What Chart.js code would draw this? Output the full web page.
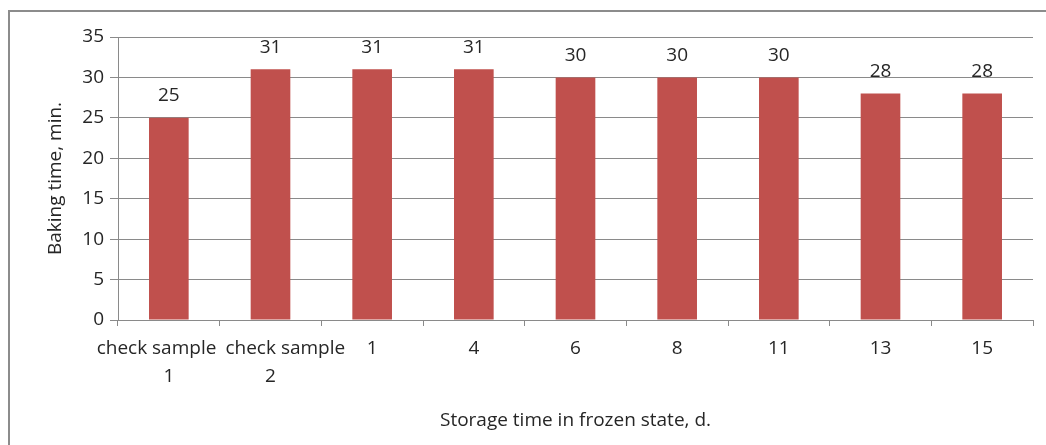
<!DOCTYPE html>
<html>
<head>
<meta charset="utf-8">
<script src="https://cdn.jsdelivr.net/npm/chart.js@4"></script>
<style>
html,body{margin:0;padding:0;background:#fff;overflow:hidden;}
.frame{position:absolute;left:8px;top:10px;width:1100px;height:500px;border-left:2px solid #8c8c8c;border-top:2px solid #8c8c8c;}
.wrap{position:absolute;left:0;top:0;width:1046px;height:445px;}
</style>
</head>
<body>
<div class="frame"></div>
<div class="wrap"><canvas id="bakeChart"></canvas></div>
<script>
/* ── DATA ── */
var categories=[['check sample','1'],['check sample','2'],'1','4','6','8','11','13','15'];
var bakingTime=[25,31,31,31,30,30,30,28,28];
var yTicks=[0,5,10,15,20,25,30,35];

var FONT='"Open Sans", "Liberation Sans", sans-serif';
var FS=19;
var TXT='#262626';
var GRID='#8a8a8a';

/* ── value labels above bars ── */
var barLabels={
  id:'barLabels',
  afterDatasetsDraw:function(chart){
    var ctx=chart.ctx;
    var meta=chart.getDatasetMeta(0);
    ctx.save();
    ctx.font=FS+'px '+FONT;
    ctx.fillStyle=TXT;
    ctx.textAlign='center';
    ctx.textBaseline='middle';
    meta.data.forEach(function(bar,i){
      ctx.fillText(String(bakingTime[i]),bar.x,bar.y-22);
    });
    ctx.restore();
  }
};

// long two-line labels get nudged apart like the original (pad with spaces)
function tickLabel(v,i){
  var l=categories[i];
  if(!Array.isArray(l)) return l;
  if(i===0) return [l[0]+'     ',l[1]];
  if(i===1) return ['      '+l[0],l[1]];
  return l;
}

new Chart(document.getElementById('bakeChart').getContext('2d'),{
  type:'bar',
  data:{
    labels:categories,
    datasets:[{data:bakingTime,backgroundColor:'#c0504d',borderWidth:0,barPercentage:0.39,categoryPercentage:1}]
  },
  options:{
    responsive:true,maintainAspectRatio:false,animation:false,
    layout:{padding:{left:0,top:37,right:13,bottom:0}},
    plugins:{legend:{display:false},tooltip:{enabled:false}},
    scales:{
      x:{
        grid:{display:true,drawOnChartArea:false,offset:true,color:GRID,tickLength:6,tickColor:GRID},
        border:{display:true,color:GRID,width:1},
        ticks:{font:{family:FONT,size:FS,lineHeight:28/FS},color:TXT,padding:9,maxRotation:0,autoSkip:false,callback:tickLabel},
        title:{display:true,text:'Storage time in frozen state, d.',font:{family:FONT,size:FS},color:TXT,padding:{top:0,bottom:13}},
        afterFit:function(s){s.height=125;}
      },
      y:{
        min:0,max:35,
        afterBuildTicks:function(s){s.ticks=yTicks.map(function(v){return{value:v};});},
        grid:{color:GRID,tickLength:8,tickColor:GRID},
        border:{display:true,color:GRID,width:1},
        ticks:{font:{family:FONT,size:FS},color:TXT,padding:6},
        title:{display:true,text:'Baking time, min.',font:{family:FONT,size:FS},color:TXT,padding:{top:44,bottom:0}},
        afterFit:function(s){s.width=118;}
      }
    }
  },
  plugins:[barLabels]
});
</script>
</body>
</html>
